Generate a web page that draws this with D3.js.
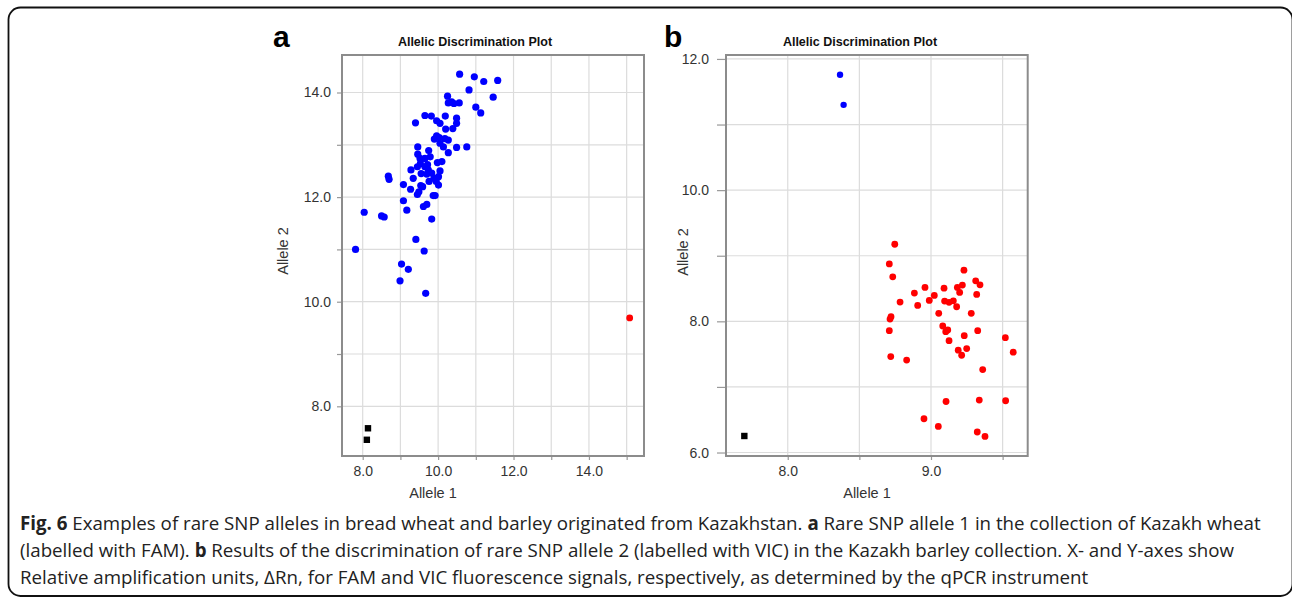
<!DOCTYPE html>
<html>
<head>
<meta charset="utf-8">
<script src="https://cdn.jsdelivr.net/npm/d3@7"></script>
<style>
  body { margin: 0; background: #fff; }
  svg { display: block; }
</style>
</head>
<body>
<svg id="chart" width="1292" height="599"></svg>
<script>
// Panel a: wheat, FAM (allele 1 = x, allele 2 = y)
const wheatAllele2 = [
  [10.57,14.35],[10.96,14.30],[11.21,14.21],[11.58,14.23],[10.82,14.05],[11.46,13.91],
  [11.00,13.72],[11.13,13.61],[10.25,13.93],[10.27,13.80],[10.42,13.79],[10.56,13.80],
  [10.36,13.82],[9.65,13.56],[9.82,13.55],[9.40,13.42],[10.19,13.55],[10.49,13.51],
  [10.49,13.41],[9.96,13.46],[10.05,13.41],[10.20,13.30],[10.39,13.31],[9.96,13.17],
  [9.90,13.11],[10.03,13.14],[10.18,13.12],[10.27,13.09],[10.05,13.03],[10.14,12.96],
  [10.27,12.85],[10.49,12.95],[10.76,12.96],[9.46,12.96],[9.75,12.89],[9.46,12.82],
  [9.65,12.74],[9.52,12.74],[9.79,12.77],[10.10,12.68],[9.28,12.52],[9.45,12.58],
  [9.65,12.58],[9.74,12.52],[9.83,12.46],[9.70,12.44],[10.01,12.39],[10.05,12.50],
  [9.89,12.36],[9.34,12.36],[8.68,12.40],[8.70,12.34],[9.08,12.24],[9.54,12.22],
  [9.76,12.30],[10.01,12.23],[9.27,12.15],[9.49,12.10],[9.45,12.05],[9.59,12.20],
  [9.87,12.03],[9.92,12.03],[9.08,11.93],[9.17,11.75],[9.61,11.82],[9.70,11.86],
  [9.83,11.58],[8.04,11.71],[8.50,11.64],[8.57,11.62],[9.41,11.19],[7.81,11.00],
  [9.63,10.97],[9.03,10.72],[9.21,10.62],[8.99,10.40],[9.67,10.16],
  [9.53,12.64],[9.72,12.62],[9.98,12.66],[9.55,12.45],[9.95,12.30]
];
const wheatAllele1 = [[15.08,9.69]];
const wheatNtc = [[8.14,7.58],[8.11,7.36]];

// Panel b: barley, VIC
const barleyAllele2 = [[8.365,11.76],[8.39,11.30]];
const barleyAllele1 = [
  [8.747,9.175],[8.709,8.875],[8.733,8.678],[9.230,8.780],[9.312,8.617],[9.342,8.556],
  [9.219,8.552],[9.184,8.517],[9.200,8.440],[8.958,8.517],[9.091,8.506],[8.884,8.430],
  [9.023,8.395],[8.988,8.319],[9.319,8.410],[8.784,8.293],[8.907,8.243],[9.095,8.309],
  [9.126,8.289],[9.156,8.313],[9.179,8.222],[9.054,8.122],[9.281,8.122],[8.721,8.070],
  [8.714,8.035],[8.709,7.857],[9.082,7.929],[9.117,7.868],[9.103,7.842],[9.326,7.857],
  [9.126,7.705],[9.232,7.781],[9.190,7.560],[9.249,7.584],[9.214,7.483],[8.719,7.462],
  [8.830,7.410],[9.519,7.751],[9.574,7.529],[9.361,7.265],[9.105,6.778],[9.337,6.799],
  [9.521,6.789],[8.951,6.515],[9.051,6.398],[9.323,6.313],[9.377,6.246]
];
const barleyNtc = [[7.697,6.252]];

// axis ticks
const aXGrid = [8, 9, 10, 11, 12, 13, 14, 15];
const aXLabels = [8, 10, 12, 14];
const aYGrid = [8, 9, 10, 11, 12, 13, 14];
const aYLabels = [8, 10, 12, 14];
const bXGrid = [8, 8.5, 9, 9.5];
const bXLabels = [8, 9];
const bYGrid = [6, 7, 8, 9, 10, 11, 12];
const bYLabels = [6, 8, 10, 12];

const plotTitle = "Allelic Discrimination Plot";
const captionLines = [
  [["Fig. 6", true], [" Examples of rare SNP alleles in bread wheat and barley originated from Kazakhstan. ", false], ["a", true], [" Rare SNP allele 1 in the collection of Kazakh wheat", false]],
  [["(labelled with FAM). ", false], ["b", true], [" Results of the discrimination of rare SNP allele 2 (labelled with VIC) in the Kazakh barley collection. X- and Y-axes show", false]],
  [["Relative amplification units, \u0394Rn, for FAM and VIC fluorescence signals, respectively, as determined by the qPCR instrument", false]]
];

const svg = d3.select("#chart");

// outer rounded frame
svg.append("rect")
  .attr("x", 8.5).attr("y", 7.5)
  .attr("width", 1284).attr("height", 588.5)
  .attr("rx", 12)
  .attr("fill", "none")
  .attr("stroke", "#111")
  .attr("stroke-width", 1.8);

function drawPanel(p) {
  const x = d3.scaleLinear().domain(p.xDomain).range([p.left, p.right]);
  const y = d3.scaleLinear().domain(p.yDomain).range([p.bottom, p.top]);
  const g = svg.append("g");

  // gridlines
  g.append("g")
    .selectAll("line.vx")
    .data(p.xGrid)
    .join("line")
    .attr("x1", d => x(d)).attr("x2", d => x(d))
    .attr("y1", p.top).attr("y2", p.bottom)
    .attr("stroke", "#dcdcdc").attr("stroke-width", 1.2);
  g.append("g")
    .selectAll("line.hy")
    .data(p.yGrid)
    .join("line")
    .attr("x1", p.left).attr("x2", p.right)
    .attr("y1", d => y(d)).attr("y2", d => y(d))
    .attr("stroke", "#dcdcdc").attr("stroke-width", 1.2);

  // axes
  const fmt = labels => d => labels.includes(d) ? d.toFixed(1) : "";
  const yAxis = g.append("g")
    .attr("transform", `translate(${p.left},0)`)
    .call(d3.axisLeft(y).tickValues(p.yGrid).tickSize(p.yTick).tickPadding(p.yPad).tickFormat(fmt(p.yLabels)));
  const xAxis = g.append("g")
    .attr("transform", `translate(0,${p.bottom})`)
    .call(d3.axisBottom(x).tickValues(p.xGrid).tickSize(4).tickPadding(6).tickFormat(fmt(p.xLabels)));
  [xAxis, yAxis].forEach(a => {
    a.select(".domain").remove();
    a.selectAll(".tick line").attr("stroke", "#999").attr("stroke-width", 1.2);
    a.selectAll(".tick text")
      .attr("fill", "#333")
      .style("font-family", "'Liberation Sans', Arial, sans-serif")
      .style("font-size", "14px");
  });

  // plot frame
  g.append("rect")
    .attr("x", p.left).attr("y", p.top)
    .attr("width", p.right - p.left).attr("height", p.bottom - p.top)
    .attr("fill", "none")
    .attr("stroke", "#8c8c8c")
    .attr("stroke-width", 2);

  // points
  g.append("g").selectAll("circle")
    .data(p.blue).join("circle")
    .attr("cx", d => x(d[0])).attr("cy", d => y(d[1]))
    .attr("r", p.blueR).attr("fill", "#0000ff");
  g.append("g").selectAll("circle")
    .data(p.red).join("circle")
    .attr("cx", d => x(d[0])).attr("cy", d => y(d[1]))
    .attr("r", p.redR).attr("fill", "#ff0000");
  g.append("g").selectAll("rect")
    .data(p.black).join("rect")
    .attr("x", d => x(d[0]) - 3.2).attr("y", d => y(d[1]) - 3.2)
    .attr("width", 6.4).attr("height", 6.4)
    .attr("fill", "#000");

  // titles
  g.append("text")
    .attr("x", p.titleX).attr("y", 46)
    .attr("text-anchor", "middle")
    .style("font-family", "'Liberation Sans', Arial, sans-serif")
    .style("font-weight", "bold")
    .style("font-size", "12.5px")
    .attr("fill", "#111")
    .text(plotTitle);
  g.append("text")
    .attr("x", p.letterX).attr("y", 47)
    .style("font-family", "'Liberation Sans', Arial, sans-serif")
    .style("font-weight", "bold")
    .style("font-size", "30px")
    .attr("fill", "#000")
    .text(p.letter);
  g.append("text")
    .attr("transform", `translate(${p.yTitleX},${p.yTitleY}) rotate(-90)`)
    .attr("text-anchor", "middle")
    .style("font-family", "'Liberation Sans', Arial, sans-serif")
    .style("font-size", "14.5px")
    .attr("fill", "#333")
    .text("Allele 2");
  g.append("text")
    .attr("x", p.xTitleX).attr("y", p.xTitleY)
    .attr("text-anchor", "middle")
    .style("font-family", "'Liberation Sans', Arial, sans-serif")
    .style("font-size", "14.5px")
    .attr("fill", "#333")
    .text("Allele 1");
}

drawPanel({
  left: 342, right: 644, top: 55, bottom: 456,
  xDomain: [7.451, 15.46], yDomain: [7.05, 14.717],
  xGrid: aXGrid, xLabels: aXLabels, yGrid: aYGrid, yLabels: aYLabels,
  yTick: 5, yPad: 6,
  blue: wheatAllele2, red: wheatAllele1, black: wheatNtc,
  blueR: 3.6, redR: 3.4,
  titleX: 475, letter: "a", letterX: 273,
  yTitleX: 288, yTitleY: 251, xTitleX: 433, xTitleY: 498
});

drawPanel({
  left: 726, right: 1027.7, top: 55, bottom: 456,
  xDomain: [7.569, 9.675], yDomain: [5.947, 12.06],
  xGrid: bXGrid, xLabels: bXLabels, yGrid: bYGrid, yLabels: bYLabels,
  yTick: 9, yPad: 8,
  blue: barleyAllele2, red: barleyAllele1, black: barleyNtc,
  blueR: 3.2, redR: 3.4,
  titleX: 860, letter: "b", letterX: 664,
  yTitleX: 688, yTitleY: 252, xTitleX: 867, xTitleY: 498
});

// caption
const cap = svg.append("g")
  .style("font-family", "'Open Sans', 'Noto Sans', sans-serif")
  .style("font-size", "16px")
  .attr("fill", "#222");
const capTexts = captionLines.map((line, i) => {
  const t = cap.append("text")
    .attr("x", 20)
    .attr("y", 530 + i * 27);
  line.forEach(([s, bold]) => {
    t.append("tspan")
      .style("font-weight", bold ? "bold" : "normal")
      .text(s);
  });
  return t;
});
// first line runs nearly the full width of the frame
const w0 = capTexts[0].node().getComputedTextLength();
cap.style("font-size", (16 * 1242 / w0).toFixed(2) + "px");
</script>
</body>
</html>
